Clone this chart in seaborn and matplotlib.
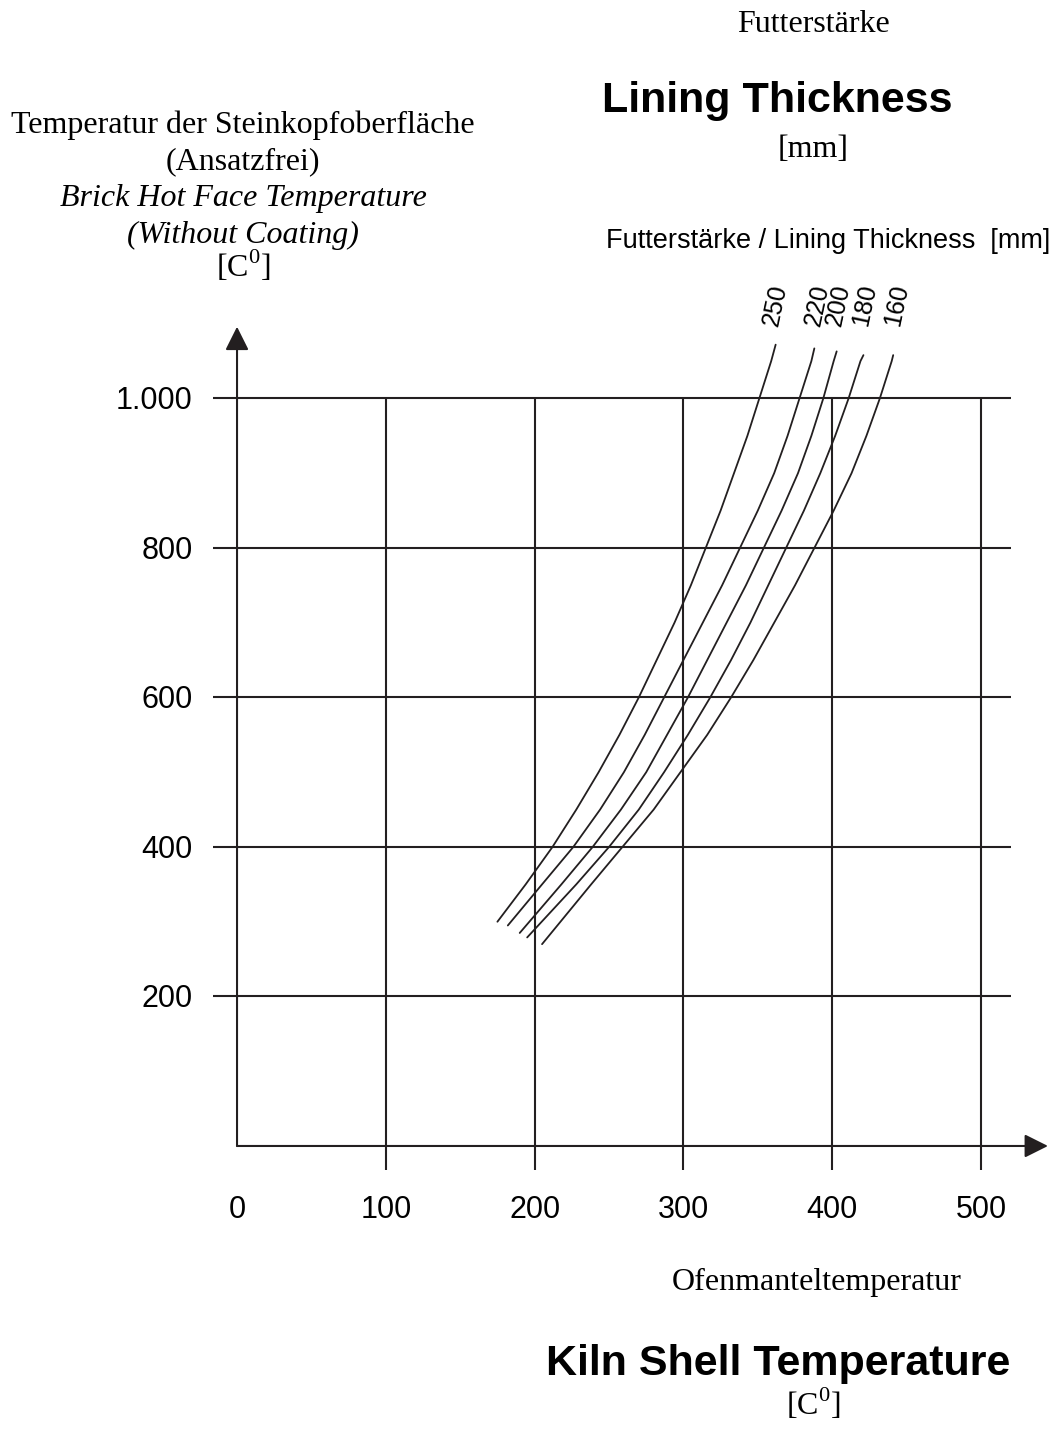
import numpy as np
import pandas as pd
import seaborn as sns
import matplotlib.pyplot as plt

# curves: kiln shell temperature (x) vs brick hot face temperature (y)
thickness = ['250', '220', '200', '180', '160']
shell_250 = [175, 194, 212, 228, 243, 257, 270, 282, 294, 305, 315, 325, 334, 343, 351, 359, 362]
hot_250 = [300, 350, 400, 450, 500, 550, 600, 650, 700, 750, 800, 850, 900, 950, 1000, 1050, 1072]
shell_220 = [182, 205, 226, 244, 260, 274, 287, 300, 313, 326, 338, 350, 361, 370, 378, 386, 388]
hot_220 = [295, 350, 400, 450, 500, 550, 600, 650, 700, 750, 800, 850, 900, 950, 1000, 1050, 1067]
shell_200 = [190, 218, 239, 258, 275, 289, 303, 316, 329, 342, 354, 366, 377, 386, 394, 401, 403]
hot_200 = [285, 350, 400, 450, 500, 550, 600, 650, 700, 750, 800, 850, 900, 950, 1000, 1050, 1063]
shell_180 = [195, 228, 250, 270, 287, 303, 318, 332, 345, 357, 369, 381, 392, 402, 411, 419, 421]
hot_180 = [279, 350, 400, 450, 500, 550, 600, 650, 700, 750, 800, 850, 900, 950, 1000, 1050, 1058]
shell_160 = [205, 238, 259, 280, 298, 316, 332, 347, 361, 375, 388, 401, 413, 423, 432, 440, 441]
hot_160 = [270, 350, 400, 450, 500, 550, 600, 650, 700, 750, 800, 850, 900, 950, 1000, 1050, 1058]

x_ticks = [0, 100, 200, 300, 400, 500]
y_ticks = [200, 400, 600, 800, 1000]
y_tick_labels = ['200', '400', '600', '800', '1.000']
label_x = [362, 390, 404, 422, 443]

LINE = '#231f20'
W, H = 1053, 1431

shells = [shell_250, shell_220, shell_200, shell_180, shell_160]
hots = [hot_250, hot_220, hot_200, hot_180, hot_160]
rows = []
for t, xs, ys in zip(thickness, shells, hots):
    for i, (xv, yv) in enumerate(zip(xs, ys)):
        rows.append({'thickness': t, 'order': i, 'shell': xv, 'hot': yv})
df = pd.DataFrame(rows)

sns.set_style('white')
plt.rcParams['text.color'] = 'black'
fig = plt.figure(figsize=(W / 100, H / 100), dpi=100)
ax = fig.add_axes([0, 0, 1, 1])
# data limits chosen so the grid sits where it does in the original
ax.set_xlim(-159.3, 548.4)
ax.set_ylim(-381.3, 1533.1)
ax.axis('off')

ax.hlines(y_ticks, -16, 520, color=LINE, lw=1.5)
ax.vlines(x_ticks[1:], -32, 1000, color=LINE, lw=1.5)
arrow = dict(arrowstyle='-|>', color=LINE, lw=1.5, mutation_scale=36,
             shrinkA=0, shrinkB=0)
ax.annotate('', xy=(0, 1096), xytext=(0, 0), arrowprops=arrow)
ax.annotate('', xy=(545, 0), xytext=(0, 0), arrowprops=arrow)

sns.lineplot(data=df, x='shell', y='hot', units='thickness', estimator=None,
             sort=False, color=LINE, lw=1.3, ax=ax)

sans = 'Liberation Sans'
serif = 'Liberation Serif'
for v, lab in zip(y_ticks, y_tick_labels):
    ax.text(-30, v - 14.5, lab, ha='right', va='baseline', fontsize=22,
            family=sans, color='black')
for v in x_ticks:
    ax.text(v, -96, str(v), ha='center', va='baseline', fontsize=22,
            family=sans, color='black')
for t, lx in zip(thickness, label_x):
    ax.text(lx, 1125, t, ha='center', va='center', rotation=78,
            rotation_mode='anchor', fontsize=18, family=sans, color='black')


def ftext(px, py, s, **kw):
    fig.text(px / W, 1 - py / H, s, ha='center', va='baseline', color='black', **kw)


ftext(243, 133, 'Temperatur der Steinkopfoberfläche', fontsize=23, family=serif)
ftext(243, 169, '(Ansatzfrei)', fontsize=23, family=serif)
ftext(243, 206, 'Brick Hot Face Temperature', fontsize=23, family=serif, style='italic')
ftext(243, 243, '(Without Coating)', fontsize=23, family=serif, style='italic')
ftext(243, 277, r'[C$^\mathregular{0}$]', fontsize=23, family=serif)

ftext(813, 32, 'Futterstärke', fontsize=23, family=serif)
ftext(777, 112, 'Lining Thickness', fontsize=31, family=sans, weight='bold')
ftext(813, 157, '[mm]', fontsize=23, family=serif)
ftext(828, 248, 'Futterstärke / Lining Thickness  [mm]', fontsize=19.5, family=sans)

ftext(817, 1290, 'Ofenmanteltemperatur', fontsize=23, family=serif)
ftext(778, 1375, 'Kiln Shell Temperature', fontsize=31, family=sans, weight='bold')
ftext(813, 1415, r'[C$^\mathregular{0}$]', fontsize=23, family=serif)

fig.savefig('out.png', dpi=100)
